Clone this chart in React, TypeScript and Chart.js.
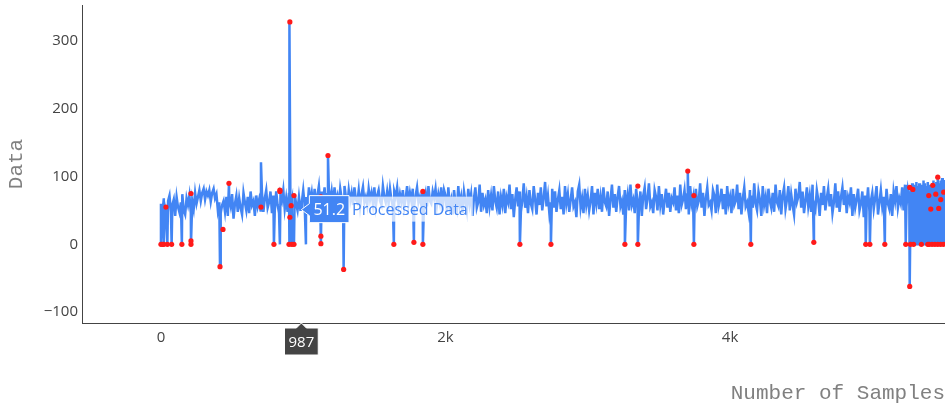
import React, { useEffect, useRef } from "react";
import { Chart, registerables } from "chart.js";

Chart.register(...registerables);

// ---------- data ----------
const sampleStep = 10; // base series: one value every 10 samples, starting at sample 0
const processedBase: number[] = [
  // 0 .. 390
  60, 45, 68, 52, 40, 64, 72, 48, 58, 66, 42, 70, 55, 47, 62, 74, 50, 44, 68, 58,
  72, 46, 64, 52, 76, 60, 70, 80, 64, 76, 82, 66, 78, 72, 80, 63, 76, 82, 68, 74,
  // 400 .. 790
  50, 62, 46, 58, 64, 48, 70, 42, 66, 56, 74, 38, 60, 72, 48, 68, 54, 44, 76, 62,
  50, 70, 46, 78, 58, 64, 42, 72, 56, 66, 50, 76, 48, 68, 80, 54, 62, 78, 46, 72,
  // 800 .. 1190
  50, 78, 58, 46, 72, 64, 80, 52, 68, 48, 76, 56, 66, 44, 74, 60, 50, 70, 51, 62,
  80, 58, 70, 54, 84, 62, 76, 56, 82, 60, 72, 86, 58, 78, 64, 84, 56, 74, 82, 62,
  // 1200 .. 1590
  78, 58, 84, 64, 72, 56, 82, 68, 60, 86, 70, 57, 80, 64, 76, 58, 84, 66, 62, 80,
  56, 74, 85, 62, 70, 58, 82, 66, 76, 60, 84, 56, 72, 80, 64, 58, 86, 70, 62, 78,
  // 1600 .. 1990
  60, 82, 66, 56, 78, 70, 84, 58, 74, 62, 80, 55, 68, 86, 60, 76, 64, 82, 57, 72,
  84, 62, 70, 58, 80, 66, 76, 56, 86, 64, 60, 78, 68, 82, 58, 74, 62, 84, 50, 80,
  // 2000 .. 2390
  72, 48, 84, 56, 66, 44, 80, 62, 52, 86, 58, 70, 46, 78, 64, 50, 82, 60, 74, 42,
  68, 84, 54, 62, 88, 48, 76, 58, 66, 46, 80, 56, 72, 50, 86, 64, 54, 78, 44, 70,
  // 2400 .. 2790
  58, 82, 46, 70, 62, 88, 52, 74, 40, 66, 84, 56, 78, 48, 64, 90, 54, 70, 46, 80,
  60, 52, 86, 66, 44, 76, 58, 84, 50, 68, 92, 56, 72, 46, 62, 82, 54, 78, 48, 66,
  // 2800 .. 3190
  80, 52, 70, 44, 86, 60, 74, 48, 66, 84, 56, 62, 40, 78, 88, 54, 68, 46, 82, 58,
  72, 50, 64, 86, 44, 76, 60, 82, 52, 70, 48, 84, 62, 56, 78, 42, 66, 88, 54, 74,
  // 3200 .. 3590
  48, 70, 86, 56, 64, 44, 80, 60, 74, 50, 88, 58, 66, 46, 82, 62, 54, 78, 42, 72,
  84, 52, 68, 90, 56, 62, 46, 80, 70, 50, 86, 58, 74, 44, 64, 82, 54, 76, 48, 68,
  // 3600 .. 3990
  62, 84, 50, 72, 46, 88, 58, 66, 80, 52, 74, 44, 86, 60, 70, 48, 82, 56, 64, 90,
  54, 76, 42, 68, 84, 58, 62, 50, 80, 72, 46, 88, 56, 66, 82, 52, 74, 44, 86, 60,
  // 4000 .. 4390
  70, 46, 82, 58, 64, 88, 52, 76, 44, 68, 84, 56, 62, 48, 80, 72, 54, 90, 60, 50,
  78, 66, 42, 86, 58, 70, 46, 82, 64, 54, 76, 48, 88, 62, 56, 80, 44, 72, 84, 52,
  // 4400 .. 4790
  66, 86, 50, 74, 58, 44, 82, 62, 70, 92, 54, 78, 46, 64, 84, 56, 72, 48, 88, 60,
  52, 80, 66, 42, 76, 58, 86, 50, 68, 82, 56, 74, 46, 62, 90, 54, 78, 48, 70, 84,
  // 4800 .. 5190
  58, 80, 46, 70, 62, 84, 42, 74, 54, 66, 82, 50, 60, 78, 40, 72, 56, 84, 48, 64,
  76, 52, 68, 86, 44, 62, 80, 56, 70, 46, 82, 60, 52, 74, 42, 78, 64, 86, 54, 68,
  // 5200 .. 5260
  60, 84, 50, 88, 56, 80, 66,
];

// dense tail where the signal flips between 0 and the normal level (from sample 5270, every 5)
const tailStart = 5270;
const tailStep = 5;
const processedTail: number[] = [
  86, 0, 90, 0, 84, 0, 88, 0, 92, 0, 86, 0, 90, 0, 84, 0, 88, 0, 94, 0,
  90, 0, 86, 0, 92, 0, 88, 0, 85, 0, 90, 0, 94, 0, 88, 0, 92, 0, 96, 0,
  90, 0, 94, 0, 98, 0, 92, 0, 95, 0, 90, 0, 94, 0, 92, 0, 96, 0, 90, 0,
];

// isolated spikes (sample index, value)
const spikeX: number[] = [0, 20, 45, 75, 147, 211, 415, 478, 703, 794, 836, 900, 906, 920, 935, 987, 1019, 1124, 1174, 1284, 1637, 1778, 1841, 2523, 2741, 3261, 3352, 3703, 3746, 4146, 4589, 4954, 4983, 5088, 5235, 5263];
const spikeY: number[] = [0, 0, 0, 0, 0, 0, -33, 90, 121, 0, 0, 0, 328, 0, 0, 51.2, 0, 0, 131, -37, 0, 3, 0, 0, 0, 0, 0, 108, 0, 0, 3, 0, 0, 0, 0, -62];

// outlier markers (red dots)
const outlierX: number[] = [0, 12, 20, 35, 45, 75, 147, 211, 211, 211, 415, 436, 478, 703, 794, 836, 836, 900, 906, 906, 915, 920, 935, 935, 1124, 1124, 1124, 1174, 1284, 1637, 1778, 1841, 1841, 2523, 2741, 3261, 3352, 3352, 3703, 3746, 3746, 4146, 4589, 4954, 4983, 5088, 5235, 5263, 5263, 5268, 5285, 5290, 5345, 5390, 5397, 5400, 5411, 5420, 5425, 5440, 5446, 5460, 5460, 5467, 5480, 5481, 5500, 5502];
const outlierY: number[] = [0, 0, 0, 55, 0, 0, 0, 0, 5, 75, -33, 22, 90, 55, 0, 80, 78, 0, 328, 40, 57, 0, 0, 72, 1, 12, 70, 131, -37, 0, 3, 0, 78, 0, 0, 0, 0, 86, 108, 0, 72, 0, 3, 0, 0, 0, 0, -62, 84, 0, 81, 0, 0, 0, 72, 0, 52, 0, 87, 0, 74, 0, 99, 53, 0, 66, 0, 77];

// hovered point shown in the reference
const hoverSample = 987;
const hoverValue = 51.2;
const seriesName = "Processed Data";

const xTicks = [0, 2000, 4000];
const yTicks = [-100, 0, 100, 200, 300];

const BLUE = "#4285f4";

const hoverPlugin = {
  id: "hoverLabels",
  afterDatasetsDraw(chart: any) {
    const { ctx, scales, chartArea } = chart;
    const px = scales.x.getPixelForValue(hoverSample);
    const py = scales.y.getPixelForValue(hoverValue);
    ctx.save();

    // ---- x-axis hover label ----
    const axisY = chartArea.bottom;
    ctx.font = '15px "Open Sans"';
    const xt = String(hoverSample);
    const xtw = ctx.measureText(xt).width;
    const bw = xtw + 8;
    const top = axisY + 5;
    const bh = 27;
    ctx.beginPath();
    ctx.moveTo(px, axisY);
    ctx.lineTo(px + 5, top);
    ctx.lineTo(px + bw / 2, top);
    ctx.lineTo(px + bw / 2, top + bh);
    ctx.lineTo(px - bw / 2, top + bh);
    ctx.lineTo(px - bw / 2, top);
    ctx.lineTo(px - 5, top);
    ctx.closePath();
    ctx.fillStyle = "#444444";
    ctx.fill();
    ctx.strokeStyle = "#ffffff";
    ctx.lineWidth = 1;
    ctx.stroke();
    ctx.fillStyle = "#ffffff";
    ctx.textAlign = "center";
    ctx.textBaseline = "middle";
    ctx.fillText(xt, px, top + bh / 2 + 1);

    // ---- value hover label ----
    ctx.font = '16px "Open Sans"';
    const vt = String(hoverValue);
    const vtw = ctx.measureText(vt).width;
    const arrowW = 8;
    const boxL = px + arrowW;
    const boxW = vtw + 8;
    const boxH = 27;
    const boxT = py - 14;
    const nameW = ctx.measureText(seriesName).width + 8;
    ctx.fillStyle = "rgba(255,255,255,0.72)";
    ctx.fillRect(boxL + boxW, boxT + 1, nameW, boxH - 2);
    ctx.fillStyle = BLUE;
    ctx.textAlign = "left";
    ctx.fillText(seriesName, boxL + boxW + 3, py + 1);

    ctx.beginPath();
    ctx.moveTo(px, py);
    ctx.lineTo(boxL, py - 6);
    ctx.lineTo(boxL, boxT);
    ctx.lineTo(boxL + boxW, boxT);
    ctx.lineTo(boxL + boxW, boxT + boxH);
    ctx.lineTo(boxL, boxT + boxH);
    ctx.lineTo(boxL, py + 6);
    ctx.closePath();
    ctx.fillStyle = BLUE;
    ctx.fill();
    ctx.strokeStyle = "#ffffff";
    ctx.stroke();
    ctx.fillStyle = "#ffffff";
    ctx.textAlign = "center";
    ctx.fillText(vt, boxL + boxW / 2, py + 1);

    ctx.restore();
  },
};

const zeroPadding = (s: any) => {
  s.paddingTop = 0;
  s.paddingBottom = 0;
  s.paddingLeft = 0;
  s.paddingRight = 0;
};

export default function App() {
  const canvasRef = useRef<HTMLCanvasElement | null>(null);

  useEffect(() => {
    const canvas = canvasRef.current;
    if (!canvas) return;

    const linePoints: { x: number; y: number }[] = [];
    processedBase.forEach((v, i) => linePoints.push({ x: i * sampleStep, y: v }));
    processedTail.forEach((v, i) => linePoints.push({ x: tailStart + i * tailStep, y: v }));
    spikeX.forEach((sx, i) => linePoints.push({ x: sx, y: spikeY[i] }));
    linePoints.sort((a, b) => a.x - b.x);

    const outlierPoints = outlierX.map((ox, i) => ({ x: ox, y: outlierY[i] }));

    const chart = new Chart(canvas, {
      type: "line",
      data: {
        datasets: [
          {
            type: "scatter",
            label: "Outliers",
            data: outlierPoints,
            showLine: false,
            pointRadius: 2.6,
            pointBackgroundColor: "#ff1a1a",
            pointBorderWidth: 0,
            order: 0,
          } as any,
          {
            label: seriesName,
            data: linePoints,
            borderColor: BLUE,
            borderWidth: 2.5,
            pointRadius: 0,
            tension: 0,
            order: 1,
          },
        ],
      },
      options: {
        animation: false,
        responsive: false,
        devicePixelRatio: 1,
        events: [],
        layout: { autoPadding: false, padding: { top: 5, left: 0, right: 0, bottom: 0 } },
        plugins: { legend: { display: false }, tooltip: { enabled: false } },
        scales: {
          x: {
            type: "linear",
            min: -555,
            max: 5511,
            grid: { display: false, drawTicks: false },
            border: { display: true, color: "#444444", width: 1 },
            afterBuildTicks: (s: any) => {
              s.ticks = xTicks.map((v) => ({ value: v }));
            },
            afterFit: (s: any) => {
              s.height = 89;
              zeroPadding(s);
            },
            ticks: {
              padding: 6,
              maxRotation: 0,
              color: "#444444",
              font: { family: "Open Sans", size: 15 },
              callback: (v: any) => (v === 0 ? "0" : v / 1000 + "k"),
            },
            title: {
              display: true,
              text: "Number of Samples",
              align: "end",
              color: "#808080",
              font: { family: "Liberation Mono", size: 21, lineHeight: 1.2 },
              padding: { top: 0, bottom: 6 },
            },
          },
          y: {
            type: "linear",
            min: -116,
            max: 353,
            grid: { display: false, drawTicks: false },
            border: { display: true, color: "#444444", width: 1 },
            afterBuildTicks: (s: any) => {
              s.ticks = yTicks.map((v) => ({ value: v }));
            },
            afterFit: (s: any) => {
              s.width = 82;
              zeroPadding(s);
            },
            ticks: {
              padding: 4,
              color: "#444444",
              font: { family: "Open Sans", size: 15 },
              callback: (v: any) => (v < 0 ? "\u2212" + Math.abs(v) : String(v)),
            },
            title: {
              display: true,
              text: "Data",
              color: "#808080",
              font: { family: "Liberation Mono", size: 21, lineHeight: 1.2 },
              padding: { top: 4, bottom: 0 },
            },
          },
        },
      },
      plugins: [hoverPlugin],
    });

    return () => chart.destroy();
  }, []);

  return (
    <div style={{ position: "absolute", left: 0, top: 0, width: 945, height: 412, background: "#fff" }}>
      <canvas ref={canvasRef} width={945} height={412} style={{ display: "block" }} />
    </div>
  );
}
